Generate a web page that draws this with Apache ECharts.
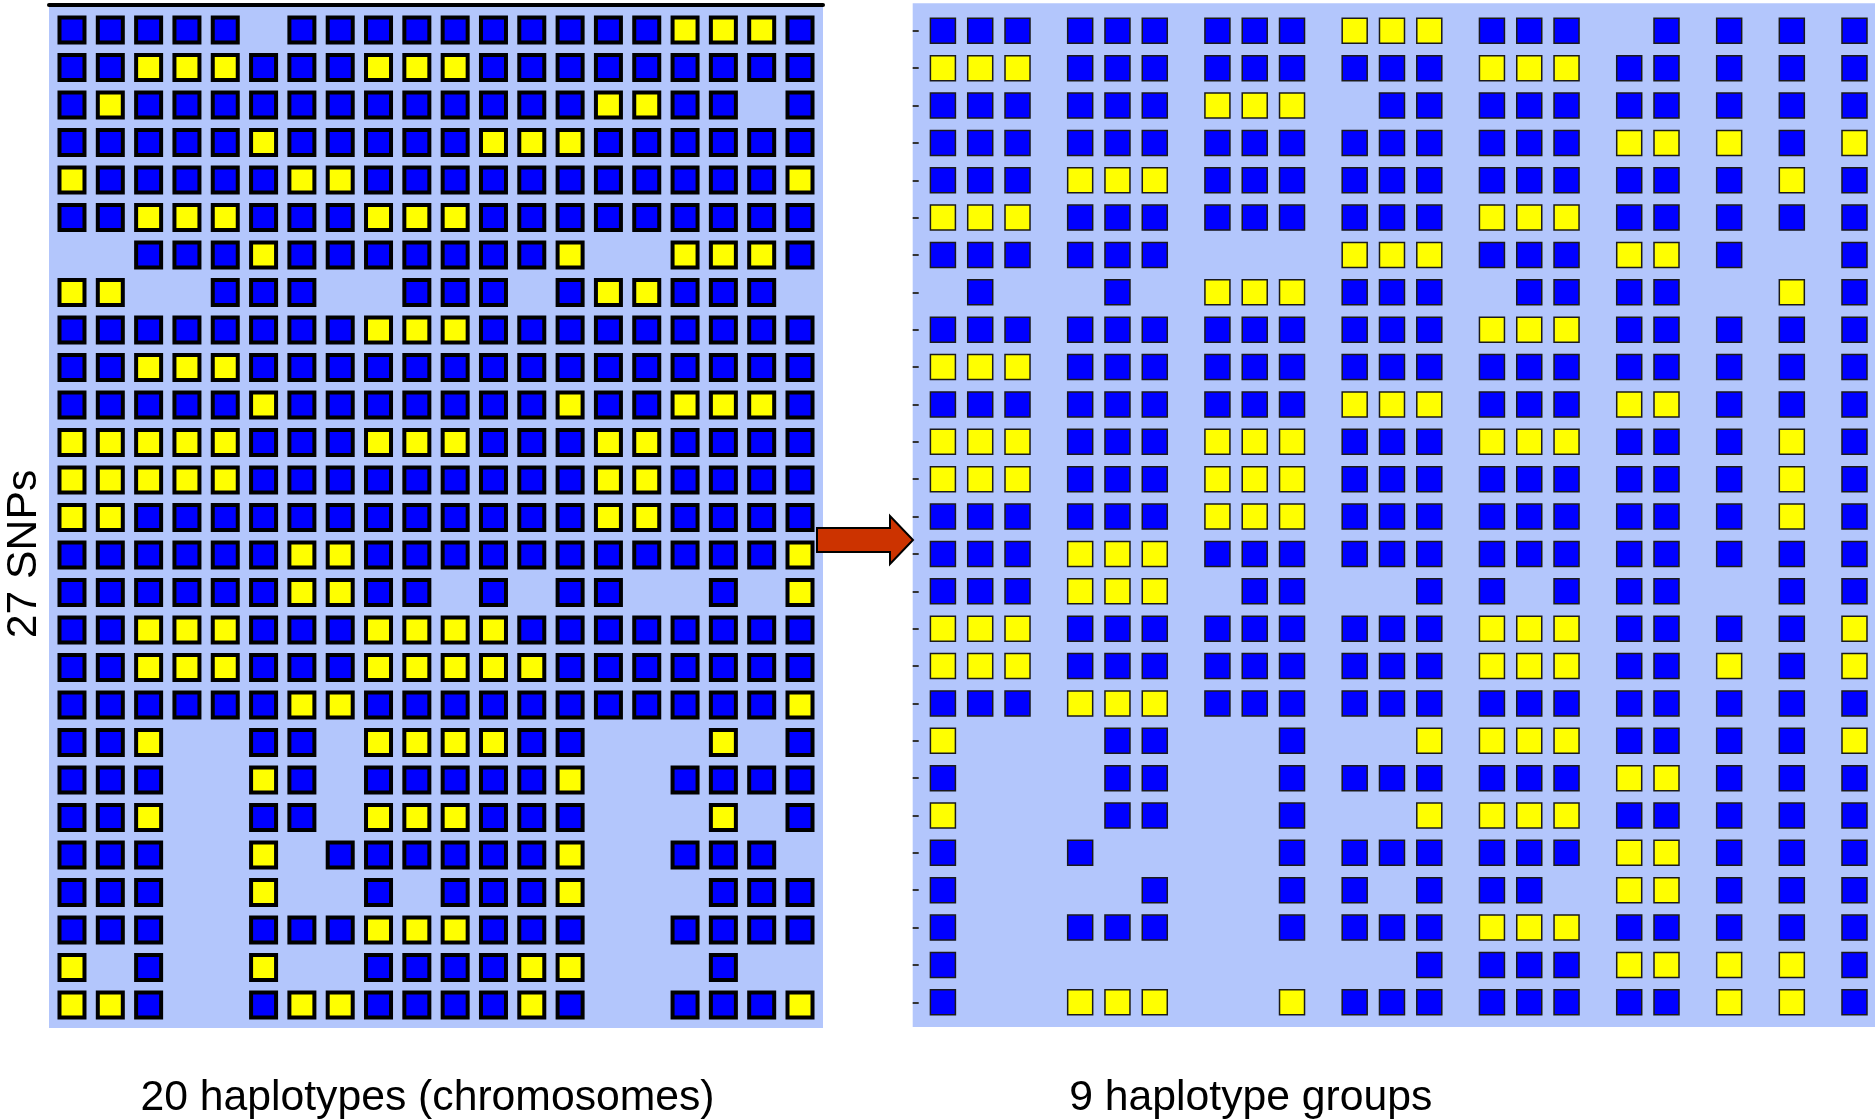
<!DOCTYPE html>
<html>
<head>
<meta charset="utf-8">
<script src="https://cdn.jsdelivr.net/npm/echarts@6.0.0/dist/echarts.min.js"></script>
<style>
  html, body { margin: 0; padding: 0; background: #ffffff; }
  #chart { width: 1875px; height: 1120px; }
</style>
</head>
<body>
<div id="chart"></div>
<script>
// B = blue allele, Y = yellow allele, . = missing
const haplotypeRows = [
  'BBBBB.BBBBBBBBBBYYYB',
  'BBYYYBBBYYYBBBBBBBBB',
  'BYBBBBBBBBBBBBYYBB.B',
  'BBBBBYBBBBBYYYBBBBBB',
  'YBBBBBYYBBBBBBBBBBBY',
  'BBYYYBBBYYYBBBBBBBBB',
  '..BBBYBBBBBBBY..YYYB',
  'YY..BBB..BBB.BYYBBB.',
  'BBBBBBBBYYYBBBBBBBBB',
  'BBYYYBBBBBBBBBBBBBBB',
  'BBBBBYBBBBBBBYBBYYYB',
  'YYYYYBBBYYYBBBYYBBBB',
  'YYYYYBBBBBBBBBYYBBBB',
  'YYBBBBBBBBBBBBYYBBBB',
  'BBBBBBYYBBBBBBBBBBBY',
  'BBBBBBYYBB.B.BB..B.Y',
  'BBYYYBBBYYYYBBBBBBBB',
  'BBYYYBBBYYYYYBBBBBBB',
  'BBBBBBYYBBBBBBBBBBBY',
  'BBY..BB.YYYYBB...Y.B',
  'BBB..YB.BBBBBY..BBBB',
  'BBY..BB.YYYBBB...Y.B',
  'BBB..Y.BBBBBBY..BBB.',
  'BBB..Y..B.BBBY...BBB',
  'BBB..BBBYYYBBB..BBBB',
  'Y.B..Y..BBBBYY...B..',
  'YYB..BYYBBBBYB..BBBY'
];

// Same SNPs, haplotypes sorted into 9 groups (groups separated by |)
const groupRows = [
  'BBB|BBB|BBB|YYY|BBB|.B|B|B|B',
  'YYY|BBB|BBB|BBB|YYY|BB|B|B|B',
  'BBB|BBB|YYY|.BB|BBB|BB|B|B|B',
  'BBB|BBB|BBB|BBB|BBB|YY|Y|B|Y',
  'BBB|YYY|BBB|BBB|BBB|BB|B|Y|B',
  'YYY|BBB|BBB|BBB|YYY|BB|B|B|B',
  'BBB|BBB|...|YYY|BBB|YY|B|.|B',
  '.B.|.B.|YYY|BBB|.BB|BB|.|Y|B',
  'BBB|BBB|BBB|BBB|YYY|BB|B|B|B',
  'YYY|BBB|BBB|BBB|BBB|BB|B|B|B',
  'BBB|BBB|BBB|YYY|BBB|YY|B|B|B',
  'YYY|BBB|YYY|BBB|YYY|BB|B|Y|B',
  'YYY|BBB|YYY|BBB|BBB|BB|B|Y|B',
  'BBB|BBB|YYY|BBB|BBB|BB|B|Y|B',
  'BBB|YYY|BBB|BBB|BBB|BB|B|B|B',
  'BBB|YYY|.BB|..B|B.B|BB|.|B|B',
  'YYY|BBB|BBB|BBB|YYY|BB|B|B|Y',
  'YYY|BBB|BBB|BBB|YYY|BB|Y|B|Y',
  'BBB|YYY|BBB|BBB|BBB|BB|B|B|B',
  'Y..|.BB|..B|..Y|YYY|BB|B|B|Y',
  'B..|.BB|..B|BBB|BBB|YY|B|B|B',
  'Y..|.BB|..B|..Y|YYY|BB|B|B|B',
  'B..|B..|..B|BBB|BBB|YY|B|B|B',
  'B..|..B|..B|B.B|BB.|YY|B|B|B',
  'B..|BBB|..B|BBB|YYY|BB|B|B|B',
  'B..|...|...|..B|BBB|YY|Y|Y|B',
  'B..|YYY|..Y|BBB|BBB|BB|Y|Y|B'
];

const leftTitle = '20 haplotypes (chromosomes)';
const rightTitle = '9 haplotype groups';
const yTitle = '27 SNPs';

// ---- build point lists from the tables ----
const GROUP_GAP = 0.68;   // extra spacing between groups (in cell units)
function leftPoints(code) {
  const pts = [];
  haplotypeRows.forEach((row, r) => {
    row.split('').forEach((c, j) => { if (c === code) pts.push([j, r]); });
  });
  return pts;
}
function rightPoints(code) {
  const pts = [];
  groupRows.forEach((row, r) => {
    let j = 0;
    row.split('|').forEach((grp, g) => {
      grp.split('').forEach((c) => {
        if (c === code) pts.push([j + g * GROUP_GAP, r]);
        j++;
      });
    });
  });
  return pts;
}
const rowIdx = groupRows.map((_, i) => i);

const BG = '#B3C6FC';
const BLUE = '#0000FF';
const YELLOW = '#FFFF00';
const FONT = '"Liberation Sans", Arial, sans-serif';

const chart = echarts.init(document.getElementById('chart'), null, { renderer: 'canvas' });

const leftStyle = { borderColor: '#000000', borderWidth: 4, opacity: 1 };
const rightStyle = { borderColor: '#1a1a1a', borderWidth: 1.5, opacity: 1 };

chart.setOption({
  animation: false,
  backgroundColor: '#ffffff',
  grid: [
    { left: 49, top: 5, width: 774, height: 1023, show: true, backgroundColor: BG, borderWidth: 0 },
    { left: 912.7, top: 3.3, width: 962.3, height: 1023.7, show: true, backgroundColor: BG, borderWidth: 0 }
  ],
  xAxis: [
    { gridIndex: 0, type: 'value', min: -0.6, max: 19.6, position: 'top',
      axisLine: { show: true, onZero: false, lineStyle: { color: '#000', width: 4 } },
      axisTick: { show: false }, axisLabel: { show: false }, splitLine: { show: false } },
    { gridIndex: 1, type: 'value', min: -0.81, max: 24.99,
      axisLine: { show: false }, axisTick: { show: false }, axisLabel: { show: false }, splitLine: { show: false } }
  ],
  yAxis: [
    { gridIndex: 0, type: 'value', inverse: true, min: -0.667, max: 26.613,
      axisLine: { show: false }, axisTick: { show: false }, axisLabel: { show: false }, splitLine: { show: false } },
    { gridIndex: 1, type: 'value', inverse: true, min: -0.7355, max: 26.66,
      axisLine: { show: false, onZero: false },
      axisTick: { show: true, inside: true, length: 6, customValues: rowIdx, lineStyle: { color: '#333', width: 2 } },
      axisLabel: { show: false }, splitLine: { show: false } }
  ],
  series: [
    { type: 'scatter', name: 'blue', xAxisIndex: 0, yAxisIndex: 0, clip: false, silent: true,
      symbol: 'rect', symbolSize: 25, itemStyle: Object.assign({ color: BLUE }, leftStyle), data: leftPoints('B') },
    { type: 'scatter', name: 'yellow', xAxisIndex: 0, yAxisIndex: 0, clip: false, silent: true,
      symbol: 'rect', symbolSize: 25, itemStyle: Object.assign({ color: YELLOW }, leftStyle), data: leftPoints('Y') },
    { type: 'scatter', name: 'blue groups', xAxisIndex: 1, yAxisIndex: 1, clip: false, silent: true,
      symbol: 'rect', symbolSize: 25, itemStyle: Object.assign({ color: BLUE }, rightStyle), data: rightPoints('B') },
    { type: 'scatter', name: 'yellow groups', xAxisIndex: 1, yAxisIndex: 1, clip: false, silent: true,
      symbol: 'rect', symbolSize: 25, itemStyle: Object.assign({ color: YELLOW }, rightStyle), data: rightPoints('Y') }
  ],
  graphic: [
    { type: 'polygon', z: 100,
      shape: { points: [[817, 528], [890, 528], [890, 516], [913, 540], [890, 564], [890, 552], [817, 552]] },
      style: { fill: '#CC3300', stroke: '#000', lineWidth: 2 } },
    { type: 'text', x: 427.5, y: 1098, z: 100,
      style: { text: leftTitle, font: '42.7px ' + FONT, fill: '#000', textAlign: 'center', textVerticalAlign: 'middle' } },
    { type: 'text', x: 1250.8, y: 1098, z: 100,
      style: { text: rightTitle, font: '42.7px ' + FONT, fill: '#000', textAlign: 'center', textVerticalAlign: 'middle' } },
    { type: 'text', x: 24.5, y: 554, rotation: Math.PI / 2, z: 100,
      style: { text: yTitle, font: '42.7px ' + FONT, fill: '#000', textAlign: 'center', textVerticalAlign: 'middle' } }
  ]
});
</script>
</body>
</html>
